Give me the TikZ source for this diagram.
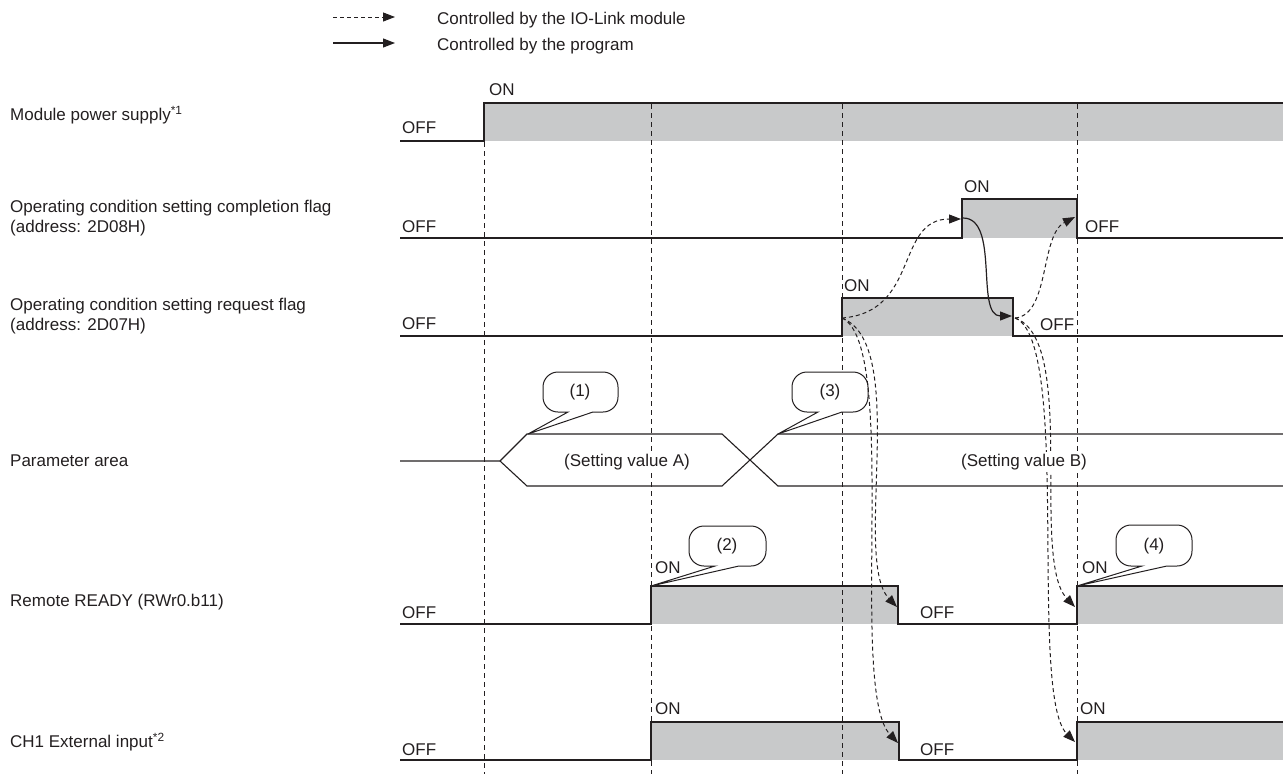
\documentclass[tikz,border=0pt]{standalone}
\usepackage{fontspec}
\setmainfont{Liberation Sans}
\usetikzlibrary{arrows.meta}
\definecolor{wave}{HTML}{231F20}
\definecolor{hi}{HTML}{C8C9CA}
\begin{document}
\begin{tikzpicture}[x=1pt,y=-1pt,
  font=\fontsize{17}{20}\selectfont,
  sig/.style={draw=wave, line width=1.1pt, line join=miter},
  vdash/.style={draw=wave, line width=1pt, dash pattern=on 5pt off 4pt},
  ctrl/.style={draw=wave, line width=1pt, dash pattern=on 4pt off 3pt, -{Triangle[length=12pt,width=9pt]}},
  prog/.style={draw=wave, line width=1.2pt, -{Triangle[length=12pt,width=9pt]}},
  lbl/.style={anchor=west, inner sep=0pt, text=wave},
  ctr/.style={anchor=center, inner sep=0pt, text=wave},
  bubble/.style={draw=wave, line width=1pt, fill=white},
  hifill/.style={fill=hi}]
\useasboundingbox (0,0) rectangle (1283,774);

% legend
\coordinate (l1a) at (333,17); \coordinate (l1b) at (395,17);
\coordinate (l2a) at (333,43); \coordinate (l2b) at (395,43);
\draw[ctrl] (l1a) -- (l1b);
\draw[prog] (l2a) -- (l2b);
\node[lbl] (leg1) at (437,20) {Controlled by the IO-Link module};
\node[lbl] (leg2) at (437,46) {Controlled by the program};

% signal names
\node[lbl] (n1) at (10,115) {Module power supply\textsuperscript{*1}};
\node[lbl, align=left] (n2) at (10,218) {Operating condition setting completion flag\\(address: 2D08H)};
\node[lbl, align=left] (n3) at (10,316) {Operating condition setting request flag\\(address: 2D07H)};
\node[lbl] (n4) at (10,461) {Parameter area};
\node[lbl] (n5) at (10,602) {Remote READY (RWr0.b11)};
\node[lbl] (n6) at (10,742) {CH1 External input\textsuperscript{*2}};

% gray fills
\fill[hifill] (484,141) rectangle (1283,103);
\fill[hifill] (962,238) rectangle (1077,199);
\fill[hifill] (842,336) rectangle (1013,298);
\fill[hifill] (651,624) rectangle (898,586);
\fill[hifill] (1077,624) rectangle (1283,586);
\fill[hifill] (651,760) rectangle (899,722);
\fill[hifill] (1077,760) rectangle (1283,722);

% vertical dashed timing lines
\draw[vdash] (484,142) -- (484,774);
\draw[vdash] (651,104) -- (651,774);
\draw[vdash] (842,104) -- (842,774);
\draw[vdash] (1077,104) -- (1077,774);

% waveforms
\draw[sig] (400,141) -- (484,141) -- (484,103) -- (1283,103);
\draw[sig] (400,238) -- (962,238) -- (962,199) -- (1077,199) -- (1077,238) -- (1283,238);
\draw[sig] (400,336) -- (842,336) -- (842,298) -- (1013,298) -- (1013,336) -- (1283,336);
\draw[sig] (400,461) -- (500,461) -- (527,434) -- (722,434) -- (778,486) -- (1283,486);
\draw[sig] (500,461) -- (527,486) -- (722,486) -- (778,434) -- (1283,434);
\draw[sig] (400,624) -- (651,624) -- (651,586) -- (898,586) -- (898,624) -- (1077,624) -- (1077,586) -- (1283,586);
\draw[sig] (400,760) -- (651,760) -- (651,722) -- (899,722) -- (899,760) -- (1077,760) -- (1077,722) -- (1283,722);

% state labels
\node[lbl] (off1) at (402,128) {OFF};
\node[lbl] (on1) at (489,90) {ON};
\node[lbl] (off2) at (402,227) {OFF};
\node[lbl] (on2) at (964,187) {ON};
\node[lbl] (off2b) at (1085,227) {OFF};
\node[lbl] (off3) at (402,324) {OFF};
\node[lbl] (on3) at (844,286) {ON};
\node[lbl] (off3b) at (1040,325) {OFF};
\node[lbl] (off5) at (402,613) {OFF};
\node[lbl] (on5) at (655,568) {ON};
\node[lbl] (off5b) at (920,613) {OFF};
\node[lbl] (on5b) at (1082,568) {ON};
\node[lbl] (off6) at (402,750) {OFF};
\node[lbl] (on6) at (655,709) {ON};
\node[lbl] (off6b) at (920,750) {OFF};
\node[lbl] (on6b) at (1080,709) {ON};

% callouts
\draw[bubble] (568,412) [rounded corners=15pt] -- (543,412) -- (543,372) -- (618,372) -- (618,412) [sharp corners] -- (593,412) -- (528,434) -- cycle;
\node[ctr] (c1) at (580,392) {(1)};
\draw[bubble] (715,566) [rounded corners=15pt] -- (689,566) -- (689,526) -- (766,526) -- (766,566) [sharp corners] -- (739,566) -- (651,586) -- cycle;
\node[ctr] (c2) at (727,546) {(2)};
\draw[bubble] (818,412) [rounded corners=15pt] -- (792,412) -- (792,372) -- (868,372) -- (868,412) [sharp corners] -- (842,412) -- (778,434) -- cycle;
\node[ctr] (c3) at (830,392) {(3)};
\draw[bubble] (1142,566) [rounded corners=15pt] -- (1116,566) -- (1116,525) -- (1192,525) -- (1192,566) [sharp corners] -- (1167,566) -- (1077,586) -- cycle;
\node[ctr] (c4) at (1154,546) {(4)};

% control arrows
\coordinate (reqOn) at (842,318);
\coordinate (cmpOn) at (961,219);
\coordinate (cmpTop) at (963,218);
\coordinate (reqOff) at (1012,316);
\coordinate (reqOffS) at (1015,318);
\coordinate (cmpOff) at (1075,217);
\coordinate (rdyOff) at (897,607);
\coordinate (chOff) at (898,743);
\coordinate (rdyOn) at (1075,607);
\coordinate (chOn) at (1075,742);

\draw[ctrl] (reqOn) .. controls (920,312) and (895,219) .. (cmpOn);
\draw[prog] (cmpTop) .. controls (1000,218) and (975,316) .. (reqOff);
\draw[ctrl] (reqOffS) .. controls (1050,315) and (1040,235) .. (cmpOff);
\draw[ctrl] (reqOn) .. controls (910,345) and (852,560) .. (rdyOff);
\draw[ctrl] (reqOn) .. controls (900,345) and (848,690) .. (chOff);
\draw[ctrl] (reqOffS) .. controls (1078,340) and (1030,560) .. (rdyOn);
\draw[ctrl] (reqOffS) .. controls (1072,340) and (1028,695) .. (chOn);

\node[ctr, fill=white, inner sep=2pt] (valA) at (627,462) {(Setting value A)};
\node[ctr, fill=white, inner sep=2pt] (valB) at (1024,462) {(Setting value B)};
\end{tikzpicture}
\end{document}
